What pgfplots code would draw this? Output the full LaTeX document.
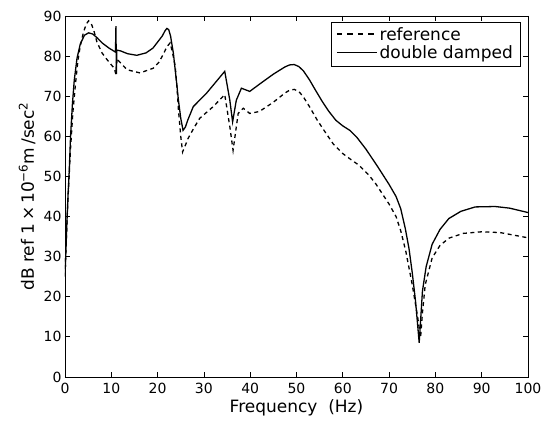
\documentclass[border=0pt]{standalone}
\usepackage{pgfplots}
\pgfplotsset{compat=1.18}
\usepackage{fontspec}
\setmainfont{DejaVu Sans}
\begin{document}
\begin{tikzpicture}
\begin{axis}[
  scale only axis, width=463bp, height=361bp,
  xmin=0, xmax=100, ymin=0, ymax=90,
  xtick={0,10,...,100}, ytick={0,10,...,90},
  tick align=inside, major tick length=5bp,
  tick style={line width=0.8pt, black},
  axis line style={line width=0.8pt},
  /pgf/number format/assume math mode=true,
  tick label style={font=\fontsize{14bp}{16bp}\selectfont},
  xticklabel style={yshift=-3bp},
  xlabel={Frequency\ \ (Hz)},
  ylabel={dB ref 1\,×\,10\textsuperscript{−6}m\,/sec\textsuperscript{2}},
  every axis x label/.style={at={(axis description cs:0.5,-0.086)}, anchor=center, font=\fontsize{17bp}{20bp}\selectfont},
  every axis y label/.style={at={(axis description cs:-0.082,0.5)}, anchor=center, rotate=90, font=\fontsize{17bp}{20bp}\selectfont},
  legend style={at={(axis description cs:1,1)}, anchor=north east, xshift=-8bp, yshift=-6bp,
    draw=black, font=\fontsize{17bp}{19bp}\selectfont,
    inner xsep=5bp, inner ysep=3.5bp, row sep=0bp},
  legend cell align=left,
  legend image code/.code={\draw[#1, line width=1.5pt] (0bp,1bp) -- (40bp,1bp);},
]
\addplot[black, line width=1.3pt, dash pattern=on 4bp off 3.5bp,
  legend image post style={dash pattern=on 5.5bp off 5bp}] coordinates {
(0,25) (0.4,38) (0.8,48) (1.2,57) (1.7,66) (2.3,73.5) (2.8,79) (3.3,82.5) (4,86)
(4.6,88) (5.1,88.8) (5.6,88.3) (6.2,86.5) (6.9,83.5) (8,80.8) (9.1,79.1) (10.6,77)
(11,75.5) (11.2,79.5) (11.6,78.8) (13.4,76.6) (16.2,75.8) (19.1,77) (20.3,78.5)
(21.2,80.4) (22,82.3) (22.7,83.3) (23.2,81) (23.8,77.5) (24.2,72) (24.5,66.6)
(25,60) (25.4,56.1) (25.9,57.5) (26.6,59.5) (27.8,62) (29.1,64.5) (32,67.4)
(34.5,70.4) (35.6,62.4) (36.3,56.5) (37.4,65.7) (38.5,67) (39.9,65.7) (42,66.2)
(45,68.5) (47.5,70.8) (48.5,71.5) (49.5,71.7) (50.5,71.2) (51.5,69.8) (52.8,67.4)
(54.5,64) (56.4,60.7) (58,58) (60,55.7) (62,54) (63.5,52.8) (65.5,50.5) (67.1,48.2)
(70,43.1) (71.5,40) (72.5,36.5) (73.6,31.4) (75,23) (76.2,14.7) (76.8,9.8)
(77.2,16) (77.8,23) (79.3,29.7) (81,32.8) (82.9,34.6) (86,35.8) (90,36.2) (94,36)
(100,34.7)
};
\addlegendentry{reference}
\addplot[black, line width=1.3pt] coordinates {
(0,25) (0.3,35) (0.6,44) (0.9,51) (1.2,60) (1.6,68) (2,74) (2.6,79.5) (3.3,83)
(4.2,85.2) (5.1,85.8) (6,85.5) (7,84.5) (8,83.3) (9.5,82) (10.9,81) (11.0,87.5)
(11.1,75.5) (11.2,81.5) (12,81.3) (13.5,80.6) (15.5,80.2) (17.5,80.8) (19,82)
(20,83.5) (21,85) (21.6,86.3) (22,86.9) (22.4,86.6) (22.8,85) (23.4,80.8) (24,74.5)
(24.5,69) (25,64.5) (25.5,61.5) (26,62.3) (26.5,64) (27.7,67.4) (30.6,70.8)
(34.5,76.2) (35.6,69) (36.2,63.6) (37,69) (38.1,72) (39.9,71.2) (42,73) (45,75.5)
(47.5,77.3) (48.5,77.8) (49.5,77.9) (50.5,77.4) (51.5,76.3) (52.8,74.1) (54,71.7)
(55.5,68.8) (57,66.2) (58.5,64) (60,62.6) (61.5,61.5) (63,59.8) (65,56.8)
(67.5,52.5) (70,48) (71.5,45) (72.5,42) (73.5,37) (74.3,32) (75,26) (75.7,19)
(76.2,12.5) (76.5,8.5) (76.8,14) (77.2,21.4) (78,27.5) (79.3,33.1) (81,36.8)
(82.9,39.5) (85.5,41.3) (88.6,42.4) (92.9,42.5) (96,42.1) (100,41)
};
\addlegendentry{double damped}
\end{axis}
\path (current axis.south west) ++(-65bp,-52bp) rectangle ([shift={(21bp,16bp)}]current axis.north east);
\end{tikzpicture}
\end{document}
